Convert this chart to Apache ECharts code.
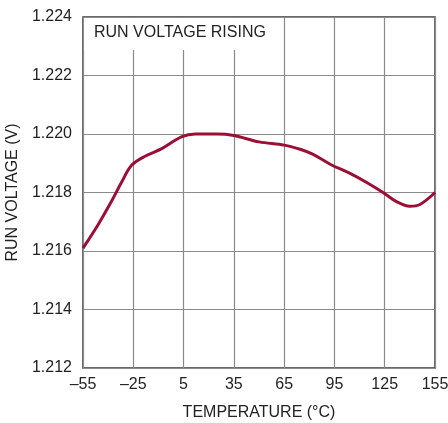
<!DOCTYPE html>
<html>
<head>
<meta charset="utf-8">
<script src="https://cdn.jsdelivr.net/npm/echarts@6/dist/echarts.min.js"></script>
<style>
  html, body { margin: 0; padding: 0; background: #fff; }
  #chart { width: 448px; height: 423px; }
</style>
</head>
<body>
<div id="chart"></div>
<script>
// temperature (°C) and run voltage (V)
var temps = [-55, -46, -38, -32, -26, -18, -8, 4, 12, 25, 35, 50, 65, 75, 82, 93, 104, 114, 124, 132, 140, 146, 155];
var volts = [1.2161, 1.2169, 1.2177, 1.21835, 1.21893, 1.21924, 1.2195, 1.21991, 1.2200, 1.2200, 1.21995, 1.21973, 1.21962,
             1.21947, 1.21931, 1.21895, 1.21866, 1.21835, 1.2180, 1.21769, 1.21753, 1.21759, 1.2180];

var fontName = '"Liberation Sans", Arial, sans-serif';
var myChart = echarts.init(document.getElementById('chart'));

var option = {
  animation: false,
  grid: {
    left: 83,
    right: 13,
    top: 17,
    bottom: 55,
    outerBoundsMode: 'none',
    show: true,
    borderColor: '#3a3a3a',
    borderWidth: 1.5
  },
  xAxis: {
    type: 'value',
    min: -55,
    max: 155,
    interval: 30,
    name: 'TEMPERATURE (°C)',
    nameLocation: 'middle',
    nameGap: 37,
    nameTextStyle: { color: '#222', fontSize: 16, fontFamily: fontName },
    axisLine: { show: false },
    axisTick: { show: false },
    axisLabel: {
      color: '#222',
      fontSize: 16,
      fontFamily: fontName,
      margin: 9,
      formatter: function (v) {
        return v < 0 ? '\u2013' + Math.abs(v) : String(v);
      }
    },
    splitLine: { show: true, lineStyle: { color: '#8a8a8a', width: 1.2 } }
  },
  yAxis: {
    type: 'value',
    min: 1.212,
    max: 1.224,
    interval: 0.002,
    name: 'RUN VOLTAGE (V)',
    nameLocation: 'middle',
    nameGap: 60,
    nameTextStyle: { color: '#222', fontSize: 16, fontFamily: fontName },
    axisLine: { show: false },
    axisTick: { show: false },
    axisLabel: {
      color: '#222',
      fontSize: 16,
      fontFamily: fontName,
      margin: 11,
      formatter: function (v) { return v.toFixed(3); }
    },
    splitLine: { show: true, lineStyle: { color: '#8a8a8a', width: 1.2 } }
  },
  graphic: [
    {
      type: 'rect',
      left: 84,
      top: 18,
      shape: { width: 180, height: 32 },
      style: { fill: '#fff' },
      z: 10
    },
    {
      type: 'text',
      left: 94,
      top: 25,
      style: {
        text: 'RUN VOLTAGE RISING',
        fill: '#222',
        font: '16px ' + fontName
      },
      z: 11
    }
  ],
  series: [{
    type: 'line',
    data: temps.map(function (t, i) { return [t, volts[i]]; }),
    smooth: 0.35,
    showSymbol: false,
    lineStyle: { color: '#9c0f35', width: 3 }
  }]
};

myChart.setOption(option);
</script>
</body>
</html>
